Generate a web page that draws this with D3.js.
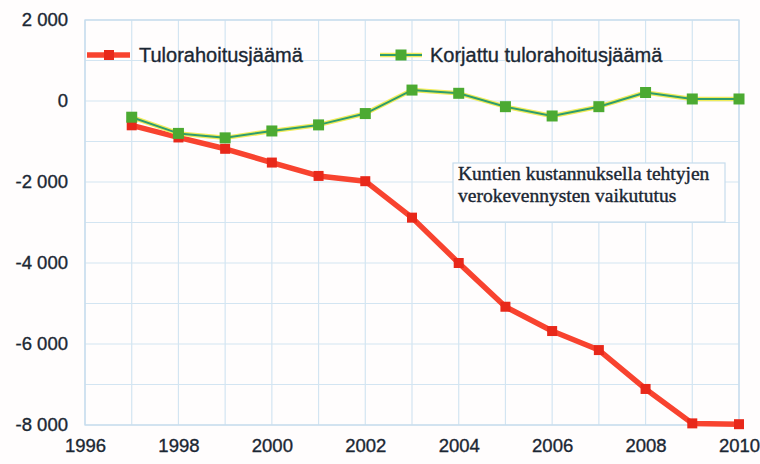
<!DOCTYPE html>
<html>
<head>
<meta charset="utf-8">
<script src="https://cdn.jsdelivr.net/npm/d3@7"></script>
<style>
  html, body { margin: 0; padding: 0; background: #fffdfd; }
  svg { display: block; }
</style>
</head>
<body>
<svg id="chart" width="760" height="464"></svg>
<script>
// Kuntien tulorahoitusjäämä 1997–2010, milj. euroa
const years = [1997, 1998, 1999, 2000, 2001, 2002, 2003, 2004, 2005, 2006, 2007, 2008, 2009, 2010];
const tulorahoitusjaama = [-600, -900, -1180, -1520, -1850, -1980, -2880, -4000, -5080, -5680, -6150, -7110, -7960, -7980];
const korjattuJaama = [-400, -800, -910, -740, -590, -310, 270, 190, -140, -370, -140, 210, 50, 50];
const seriesNames = ["Tulorahoitusjäämä", "Korjattu tulorahoitusjäämä"];
const yTicks = [2000, 0, -2000, -4000, -6000, -8000];
const yMinor = [1000, -1000, -3000, -5000, -7000];
const xTicks = [1996, 1998, 2000, 2002, 2004, 2006, 2008, 2010];
const noteLines = ["Kuntien kustannuksella tehtyjen", "verokevennysten vaikututus"];

const svg = d3.select("#chart");
const plot = { left: 85, right: 739, top: 20, bottom: 425 };
const textColor = "#1b2733";
const sans = "Liberation Sans, Arial, sans-serif";

const x = d3.scaleLinear().domain([1996, 2010]).range([plot.left, plot.right]);
const y = d3.scaleLinear().domain([-8000, 2000]).range([plot.bottom, plot.top]);

const fmt = v => d3.format(",")(v).replace(/,/g, " ").replace("−", "-");

// grid
const grid = svg.append("g");
grid.selectAll(".vgrid").data(d3.range(1996, 2011)).join("line")
  .attr("x1", d => x(d)).attr("x2", d => x(d))
  .attr("y1", plot.top).attr("y2", plot.bottom)
  .attr("stroke", "#d3e5f2").attr("stroke-width", 1.2);
grid.selectAll(".hgrid").data(yTicks.concat(yMinor)).join("line")
  .attr("x1", plot.left).attr("x2", plot.right)
  .attr("y1", d => y(d)).attr("y2", d => y(d))
  .attr("stroke", "#d3e5f2").attr("stroke-width", 1.2);
grid.append("rect")
  .attr("x", plot.left).attr("y", plot.top)
  .attr("width", plot.right - plot.left).attr("height", plot.bottom - plot.top)
  .attr("fill", "none").attr("stroke", "#c6dced").attr("stroke-width", 1.3);

// axes
const styleTicks = g => g.selectAll("text")
  .attr("font-family", sans).attr("font-size", 18.5)
  .attr("fill", textColor).attr("stroke", textColor).attr("stroke-width", 0.35);

const yAxis = d3.axisLeft(y).tickValues(yTicks).tickFormat(fmt).tickSize(0).tickPadding(17);
const gy = svg.append("g").attr("transform", `translate(${plot.left},0)`).call(yAxis);
gy.select(".domain").remove();
styleTicks(gy);

const xAxis = d3.axisBottom(x).tickValues(xTicks).tickFormat(d3.format("d")).tickSize(0).tickPadding(14);
const gx = svg.append("g").attr("transform", `translate(0,${plot.bottom})`).call(xAxis);
gx.select(".domain").remove();
styleTicks(gx);

// series
const line = d3.line().x((d, i) => x(years[i])).y(d => y(d));

// Tulorahoitusjäämä
svg.append("path").datum(tulorahoitusjaama)
  .attr("d", line).attr("fill", "none")
  .attr("stroke", "#f8432f").attr("stroke-width", 5.5).attr("stroke-linejoin", "round");
svg.append("g").selectAll("rect").data(tulorahoitusjaama).join("rect")
  .attr("x", (d, i) => x(years[i]) - 5).attr("y", d => y(d) - 5)
  .attr("width", 10).attr("height", 10)
  .attr("fill", "#e8281a");

// Korjattu tulorahoitusjäämä
svg.append("path").datum(korjattuJaama)
  .attr("d", line).attr("fill", "none")
  .attr("stroke", "#f1ec5a").attr("stroke-width", 4.5).attr("stroke-linejoin", "round");
svg.append("path").datum(korjattuJaama)
  .attr("d", line).attr("fill", "none")
  .attr("stroke", "#2e9c6e").attr("stroke-width", 2).attr("stroke-linejoin", "round");
svg.append("g").selectAll("rect").data(korjattuJaama).join("rect")
  .attr("x", (d, i) => x(years[i]) - 5.5).attr("y", d => y(d) - 5.5)
  .attr("width", 11).attr("height", 11)
  .attr("fill", "#4caa32");

// legend
const lg = svg.append("g").attr("font-family", sans)
  .attr("font-size", 20).attr("fill", textColor)
  .attr("stroke-width", 0);
lg.append("line").attr("x1", 87).attr("x2", 130).attr("y1", 55).attr("y2", 55)
  .attr("stroke", "#f8432f").attr("stroke-width", 5.5);
lg.append("rect").attr("x", 104).attr("y", 50).attr("width", 10).attr("height", 10).attr("fill", "#e8281a");
lg.append("text").attr("x", 139).attr("y", 62).attr("stroke", textColor).attr("stroke-width", 0.35)
  .text(seriesNames[0]);

lg.append("line").attr("x1", 380).attr("x2", 422).attr("y1", 55).attr("y2", 55)
  .attr("stroke", "#f1ec5a").attr("stroke-width", 4.5);
lg.append("line").attr("x1", 380).attr("x2", 422).attr("y1", 55).attr("y2", 55)
  .attr("stroke", "#2e9c6e").attr("stroke-width", 2);
lg.append("rect").attr("x", 395.5).attr("y", 49.5).attr("width", 11).attr("height", 11).attr("fill", "#4caa32");
lg.append("text").attr("x", 430).attr("y", 62).attr("stroke", textColor).attr("stroke-width", 0.35)
  .text(seriesNames[1]);

// note box
const note = svg.append("g");
note.append("rect").attr("x", 453).attr("y", 163).attr("width", 272).attr("height", 59)
  .attr("fill", "#fffdfd").attr("stroke", "#c6dced").attr("stroke-width", 1.2);
note.selectAll("text").data(noteLines).join("text")
  .attr("x", 458).attr("y", (d, i) => 180 + i * 22)
  .attr("font-family", "Liberation Serif, Times New Roman, serif")
  .attr("font-size", 19.5).attr("fill", textColor)
  .attr("stroke", textColor).attr("stroke-width", 0.4)
  .text(d => d);
</script>
</body>
</html>
